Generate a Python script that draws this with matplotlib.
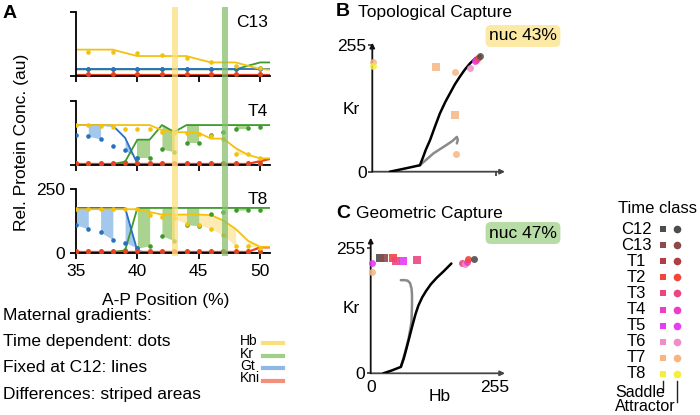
import numpy as np
import matplotlib
matplotlib.use('Agg')
import matplotlib.pyplot as plt

plt.rcParams['font.family'] = ['Liberation Sans', 'DejaVu Sans']

# ---------------- Panel A data ----------------
x_line = list(range(35, 52))          # 35..51
x_dots_c13 = list(range(36, 51, 2))   # 36..50
x_dots_t = list(range(35, 51))        # 35..50

panel_names = ["C13", "T4", "T8"]

# C13
c13_hb_line = [103, 103, 103, 103, 90, 78, 78, 78, 78, 78, 65, 53, 53, 53, 40, 27, 24]
c13_kr_line = [26, 26, 26, 26, 26, 26, 26, 26, 26, 26, 26, 26, 26, 26, 40, 53, 53]
c13_gt_line = [26] * 17
c13_kni_line = [4] * 17
c13_hb_dots = [95, 95, 88, 82, 71, 56, 40, 30]
c13_kr_dots = [26, 26, 26, 26, 26, 26, 26, 32]
c13_gt_dots = [26, 26, 26, 26, 26, 26, 26, 26]
c13_kni_dots = [7] * 8

# T4
t4_hb_line = [156, 156, 156, 156, 156, 156, 156, 136, 128, 128, 125, 103, 103, 66, 40, 26, 26]
t4_kr_line = [4, 4, 4, 4, 13, 99, 99, 156, 129, 156, 156, 156, 156, 156, 156, 156, 156]
t4_gt_line = [156, 156, 156, 154, 106, 5, 0, 0, 0, 0, 0, 0, 0, 0, 0, 0, 0]
t4_kni_line = [4, 4, 4, 4, 4, 4, 4, 4, 4, 4, 4, 4, 4, 4, 4, 15, 26]
t4_hb_dots = [156, 156, 153, 150, 140, 140, 140, 130, 125, 125, 121, 114, 100, 42, 42, 26]
t4_kr_dots = [4, 4, 4, 4, 10, 26, 26, 62, 52, 86, 86, 119, 130, 141, 143, 148]
t4_gt_dots = [119, 112, 102, 73, 57, 26, 0, 0, 0, 0, 0, 0, 0, 0, 0, 0]
t4_kni_dots = [7] * 16

# T8
t8_hb_line = [171, 171, 171, 171, 171, 171, 160, 150, 150, 150, 150, 148, 127, 94, 48, 24, 24]
t8_kr_line = [4, 4, 4, 4, 10, 176, 176, 176, 176, 176, 176, 176, 176, 176, 176, 176, 176]
t8_gt_line = [176, 176, 176, 176, 176, 8, 0, 0, 0, 0, 0, 0, 0, 0, 0, 0, 0]
t8_kni_line = [4, 4, 4, 4, 4, 4, 4, 4, 4, 4, 4, 4, 4, 4, 4, 22, 22]
t8_hb_dots = [171, 171, 171, 171, 171, 171, 147, 140, 135, 115, 110, 95, 70, 28, 28, 20]
t8_kr_dots = [4, 4, 4, 4, 10, 19, 28, 67, 48, 110, 107, 153, 160, 167, 168, 169]
t8_gt_dots = [110, 94, 81, 52, 41, 19, 0, 0, 0, 0, 0, 0, 0, 0, 0, 0]
t8_kni_dots = [7] * 16

# stripe start positions (1 unit wide)
t4_gt_stripes = [36, 39]
t4_kr_stripes = [40, 42, 44, 48]
t4_hb_stripes = [44, 48]
t8_gt_stripes = [35, 37, 39]
t8_kr_stripes = [40, 42, 44, 48]
t8_hb_stripes = [43, 45, 46, 47, 49]

hb_col, kr_col, gt_col, kni_col = '#f2c20f', '#3d9a2b', '#2870c0', '#e8421e'
hb_fill, kr_fill, gt_fill = '#fcebb2', '#a9d38f', '#a4c8ec'

# ---------------- Panels B/C data ----------------
class_names = ["C12", "C13", "T1", "T2", "T3", "T4", "T5", "T6", "T7", "T8"]
class_colors = ['#4d4d4d', '#8c4b4b', '#b23c48', '#f2463c', '#ec4682',
                '#ec3cc8', '#e63cf2', '#f08cc8', '#f6b684', '#f5ef3c']
cc = dict(zip(class_names, class_colors))

b_black_x = [36, 70, 98, 104, 110, 119, 129, 139, 150, 160, 170, 180, 190, 201, 212, 222]
b_black_y = [0, 7, 13, 28, 44, 64, 91, 117, 140, 158, 176, 191, 205, 218, 228, 233]
b_gray_x = [98, 126, 153, 165, 174, 176, 174]
b_gray_y = [13, 37, 54, 62, 70, 64, 57]
b_sad_x = [132, 170]
b_sad_y = [211, 114]
b_sad_c = ["T7", "T7"]
b_att_x = [2, 2, 170, 172, 201, 211, 214, 218, 222]
b_att_y = [220, 212, 201, 36, 208, 222, 225, 229, 233]
b_att_c = ["T7", "T8", "T7", "T7", "T6", "T5", "T4", "T2", "C12"]

c_black_x = [26, 44, 62, 68, 74, 80, 86, 92, 98, 106, 114, 124, 136, 150, 166]
c_black_y = [0, 6, 13, 30, 52, 75, 98, 120, 138, 155, 168, 182, 195, 208, 224]
c_gray_x = [62, 70, 78, 84, 85, 85, 84, 81, 76, 70, 62]
c_gray_y = [13, 40, 71, 105, 140, 160, 173, 184, 189, 190, 190]
c_sad_x = [19, 28, 45, 53, 67, 96]
c_sad_y = [235, 235, 235, 230, 229, 231]
c_sad_c = ["C12", "C13", "T2", "T3", "T5", "T3"]
c_att_x = [2, 2, 187, 194, 198, 201, 213]
c_att_y = [224, 207, 226, 222, 228, 233, 234]
c_att_c = ["T5", "T7", "T3", "T6", "T4", "T2", "C12"]

W, H = 700, 415
fig = plt.figure(figsize=(7, 4.15), dpi=100)


def fx(px):
    return px / W


def fy(py):
    return 1 - py / H


FS = 12.5

# ---------------- Panel A ----------------
panels = [
    (x_dots_c13, c13_hb_line, c13_kr_line, c13_gt_line, c13_kni_line,
     c13_hb_dots, c13_kr_dots, c13_gt_dots, c13_kni_dots, [], [], []),
    (x_dots_t, t4_hb_line, t4_kr_line, t4_gt_line, t4_kni_line,
     t4_hb_dots, t4_kr_dots, t4_gt_dots, t4_kni_dots, t4_hb_stripes, t4_kr_stripes, t4_gt_stripes),
    (x_dots_t, t8_hb_line, t8_kr_line, t8_gt_line, t8_kni_line,
     t8_hb_dots, t8_kr_dots, t8_gt_dots, t8_kni_dots, t8_hb_stripes, t8_kr_stripes, t8_gt_stripes),
]
tops = [12, 101, 189]
ph = 64
x0px, x1px = 76, 270
xl = (35, 50.8)


def stripes(ax, line, dx, dv, starts, color):
    for s in starts:
        xs = np.linspace(s, s + 1, 25)
        l = np.interp(xs, x_line, line)
        d = np.interp(xs, dx, dv)
        ax.fill_between(xs, l, d, color=color, lw=0, zorder=1)


for i, (top, p) in enumerate(zip(tops, panels)):
    (dx, hbl, krl, gtl, knil, hbd, krd, gtd, knid, hbs, krs, gts) = p
    ax = fig.add_axes([fx(x0px), fy(top + ph), (x1px - x0px) / W, ph / H])
    ax.set_xlim(*xl)
    ax.set_ylim(0, 250)
    stripes(ax, hbl, dx, hbd, hbs, hb_fill)
    stripes(ax, krl, dx, krd, krs, kr_fill)
    stripes(ax, gtl, dx, gtd, gts, gt_fill)
    ax.plot(x_line, krl, color=kr_col, lw=1.3, zorder=2, clip_on=True)
    ax.plot(x_line, gtl, color=gt_col, lw=1.3, zorder=2.1)
    ax.plot(x_line, knil, color=kni_col, lw=1.6, zorder=2.2)
    ax.plot(x_line, hbl, color=hb_col, lw=1.3, zorder=2.3)
    ax.plot(dx, krd, 'o', color=kr_col, ms=3.3, mew=0, zorder=3)
    ax.plot(dx, gtd, 'o', color=gt_col, ms=3.3, mew=0, zorder=3.1)
    ax.plot(dx, knid, 'o', color=kni_col, ms=3.6, mew=0, zorder=3.2)
    ax.plot(dx, hbd, 'o', color=hb_col, ms=3.3, mew=0, zorder=3.3)
    for s in ['top', 'right']:
        ax.spines[s].set_visible(False)
    for s in ['left', 'bottom']:
        ax.spines[s].set_linewidth(1.3)
        ax.spines[s].set_color('black')
    ax.set_yticks([0, 250])
    ax.set_xticks([35, 40, 45, 50])
    ax.tick_params(direction='out', length=4, width=1.3, labelsize=FS, pad=4)
    if i < 2:
        ax.set_xticklabels([])
        ax.set_yticklabels([])
    ax.patch.set_alpha(0)
    ax.text(0.99, 1.0 - 3 / ph, panel_names[i], transform=ax.transAxes,
            ha='right', va='top', fontsize=FS)

# vertical highlight bars spanning all three panels
axo = fig.add_axes([fx(x0px), fy(256), (x1px - x0px) / W, (256 - 7) / H])
axo.set_xlim(*xl)
axo.set_ylim(0, 1)
axo.axvspan(42.8, 43.3, color='#fde07e', alpha=0.75, lw=0)
axo.axvspan(46.87, 47.35, color='#86c06c', alpha=0.75, lw=0)
axo.axis('off')

fig.text(fx(3), fy(14), "A", fontsize=14, fontweight='bold', va='center', ha='left')
fig.text(fx(22), fy(142), "Rel. Protein Conc. (au)", rotation=90, fontsize=FS,
         va='center', ha='center')
fig.text(fx(166), fy(301), "A-P Position (%)", fontsize=FS, va='center', ha='center')

leg_lines = ["Maternal gradients:", "Time dependent: dots", "Fixed at C12: lines",
             "Differences: striped areas"]
for t, yy in zip(leg_lines, [315, 341.5, 368, 394.5]):
    fig.text(fx(3), fy(yy), t, fontsize=FS, va='center', ha='left')

gene_names = ["Hb", "Kr", "Gt", "Kni"]
gene_leg_cols = ['#fbe07a', '#9fd08a', '#8db8e6', '#f3907c']
for g, c, yy in zip(gene_names, gene_leg_cols, [341, 353.5, 366, 378.5]):
    fig.text(fx(240), fy(yy), g, fontsize=10, va='center', ha='left')
    fig.add_artist(plt.Line2D([fx(263), fx(283)], [fy(yy + 2), fy(yy + 2)], color=c, lw=3))


# ---------------- Panels B / C ----------------
def phase_axes(ox, oy, ytop, xtop_px, y255):
    xs = 0.486  # px per unit
    ax = fig.add_axes([fx(ox), fy(oy), (xtop_px - ox) / W, (oy - ytop) / H])
    ax.set_xlim(0, (xtop_px - ox) / xs)
    ax.set_ylim(0, 255 * (oy - ytop) / (oy - y255))
    for s in ax.spines.values():
        s.set_visible(False)
    ax.patch.set_alpha(0)
    ax.annotate('', xy=(1, 0), xytext=(0, 0), xycoords='axes fraction',
                arrowprops=dict(arrowstyle='-|>', color='#444444', lw=1.3,
                                shrinkA=0, shrinkB=0, mutation_scale=7))
    ax.annotate('', xy=(0, 1), xytext=(0, 0), xycoords='axes fraction',
                arrowprops=dict(arrowstyle='-|>', color='#111111', lw=1.3,
                                shrinkA=0, shrinkB=0, mutation_scale=7))
    ax.set_xticks([255])
    ax.set_yticks([0, 255])
    ax.tick_params(direction='out', length=3, width=1.1, labelsize=FS, pad=1, colors='#222222')
    ax.tick_params(axis='y', labelcolor='black')
    return ax


axB = phase_axes(372.3, 171.7, 42.7, 505, 45)
axB.set_xticklabels([])
axB.plot(b_black_x, b_black_y, color='black', lw=1.8, zorder=3, solid_capstyle='round')
axB.plot(b_gray_x, b_gray_y, color='#8a8a8a', lw=1.8, zorder=2, solid_capstyle='round')
for x, y, c in zip(b_sad_x, b_sad_y, b_sad_c):
    axB.plot(x, y, 's', color=cc[c], ms=5.5, mew=0, alpha=0.85, zorder=4, clip_on=False)
for x, y, c in zip(b_att_x, b_att_y, b_att_c):
    axB.plot(x, y, 'o', color=cc[c], ms=5, mew=0, alpha=0.85, zorder=4, clip_on=False)

axC = phase_axes(370.7, 373.3, 237.7, 505, 248.3)
axC.set_xticks([0, 255])
axC.set_xticklabels(["0", "255"])
axC.tick_params(axis='x', length=0, pad=5, labelcolor='black')
axC.plot(c_gray_x, c_gray_y, color='#8a8a8a', lw=1.8, zorder=2, solid_capstyle='round')
axC.plot(c_black_x, c_black_y, color='black', lw=1.8, zorder=3, solid_capstyle='round')
for x, y, c in zip(c_sad_x, c_sad_y, c_sad_c):
    axC.plot(x, y, 's', color=cc[c], ms=5.5, mew=0, alpha=0.9, zorder=4, clip_on=False)
for x, y, c in zip(c_att_x, c_att_y, c_att_c):
    axC.plot(x, y, 'o', color=cc[c], ms=5, mew=0, alpha=0.9, zorder=4, clip_on=False)

fig.text(fx(336), fy(12), "B", fontsize=14, fontweight='bold', va='center', ha='left')
fig.text(fx(358), fy(12.5), "Topological Capture", fontsize=FS, va='center', ha='left')
fig.text(fx(336), fy(213), "C", fontsize=14, fontweight='bold', va='center', ha='left')
fig.text(fx(356), fy(213.5), "Geometric Capture", fontsize=FS, va='center', ha='left')
fig.text(fx(351), fy(109), "Kr", fontsize=FS, va='center', ha='center')
fig.text(fx(351), fy(308), "Kr", fontsize=FS, va='center', ha='center')
fig.text(fx(440), fy(396), "Hb", fontsize=FS, va='center', ha='center')
fig.text(fx(523), fy(36), "nuc 43%", fontsize=FS, va='center', ha='center',
         bbox=dict(boxstyle='round,pad=0.2,rounding_size=0.3', fc='#fde9a6', ec='none'))
fig.text(fx(523), fy(233), "nuc 47%", fontsize=FS, va='center', ha='center',
         bbox=dict(boxstyle='round,pad=0.2,rounding_size=0.3', fc='#b8dca5', ec='none'))

# ---------------- Time class legend ----------------
fig.text(fx(657), fy(208), "Time class", fontsize=12, va='center', ha='center')
for k, (n, c) in enumerate(zip(class_names, class_colors)):
    yy = 229 + k * 16.1
    fig.text(fx(636), fy(yy), n, fontsize=12, va='center', ha='center')
    fig.add_artist(plt.Line2D([fx(662.5)], [fy(yy)], marker='s', color=c, ms=5, mew=0, ls=''))
    fig.add_artist(plt.Line2D([fx(677)], [fy(yy)], marker='o', color=c, ms=5.5, mew=0, ls=''))
fig.add_artist(plt.Line2D([fx(662.5), fx(662.5)], [fy(381), fy(390)], color='#222222', lw=1))
fig.add_artist(plt.Line2D([fx(677), fx(677)], [fy(381), fy(402)], color='#222222', lw=1))
fig.text(fx(615), fy(414), "Saddle\nAttractor", fontsize=11.5, va='bottom', ha='left',
         linespacing=0.95)

fig.savefig("out.png", dpi=100)
